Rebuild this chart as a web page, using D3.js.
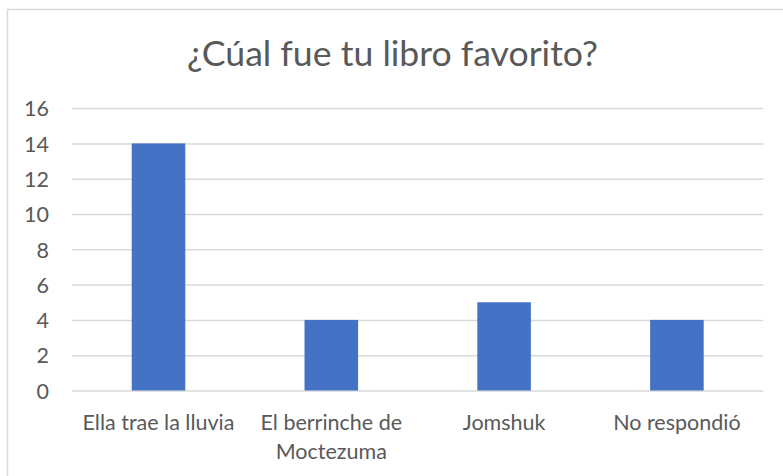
<!DOCTYPE html>
<html>
<head>
<meta charset="utf-8">
<script src="https://cdn.jsdelivr.net/npm/d3@7"></script>
<style>
  html, body { margin: 0; padding: 0; background: #fff; }
  svg { display: block; font-family: Lato, "Open Sans", sans-serif; }
</style>
</head>
<body>
<svg id="chart" width="783" height="476"></svg>
<script>
const titleText = "¿Cúal fue tu libro favorito?";
const categories = ["Ella trae la lluvia", "El berrinche de Moctezuma", "Jomshuk", "No respondió"];
const values = [14, 4, 5, 4];
const yTicks = [0, 2, 4, 6, 8, 10, 12, 14, 16];

const W = 783, H = 476;
const plot = { left: 72.1, right: 763.3, top: 108.1, bottom: 390.5 };
const textColor = "#595959";
const gridColor = "#d9d9d9";
const barColor = "#4472C4";

const svg = d3.select("#chart");

// chart border
svg.append("rect")
  .attr("x", 7.5).attr("y", 9.5)
  .attr("width", W + 10).attr("height", H + 10)
  .attr("fill", "#fff")
  .attr("stroke", gridColor).attr("stroke-width", 1.5);

// title
const title = svg.append("text")
  .attr("x", 392.5).attr("y", 66)
  .attr("text-anchor", "middle")
  .attr("fill", textColor)
  .style("font-size", "36px")
  .text(titleText);
// fit width to reference (~411px)
{
  const w = title.node().getComputedTextLength();
  title.style("font-size", (36 * 411 / w).toFixed(2) + "px");
}

const x = d3.scaleBand()
  .domain(categories)
  .range([plot.left, plot.right])
  .paddingInner(0.69)
  .paddingOuter(0.345);

const y = d3.scaleLinear()
  .domain([0, 16])
  .range([plot.bottom, plot.top]);

// gridlines
svg.append("g")
  .attr("transform", `translate(${plot.left},0)`)
  .call(d3.axisLeft(y).tickValues(yTicks).tickSize(-(plot.right - plot.left)).tickFormat(""))
  .call(g => g.select(".domain").remove())
  .call(g => g.selectAll(".tick line").attr("stroke", gridColor).attr("stroke-width", 1.5));

// y tick labels
const labelSize = 21.5;
const yAxis = svg.append("g")
  .attr("transform", `translate(49,0)`)
  .call(d3.axisLeft(y).tickValues(yTicks).tickSize(0).tickPadding(0))
  .call(g => g.select(".domain").remove());
yAxis.selectAll("text")
  .attr("fill", textColor)
  .style("font-size", labelSize + "px")
  .style("font-family", "Lato, 'Open Sans', sans-serif")
  .attr("dy", "0.36em");

// bars
svg.append("g").selectAll("rect")
  .data(values)
  .join("rect")
  .attr("x", (d, i) => x(categories[i]))
  .attr("width", x.bandwidth())
  .attr("y", d => y(d))
  .attr("height", d => y(0) - y(d))
  .attr("fill", barColor);

// category labels with wrapping
const step = x.step();
const xAxis = svg.append("g")
  .attr("transform", `translate(0,${plot.bottom})`)
  .call(d3.axisBottom(x).tickSize(0).tickPadding(0))
  .call(g => g.select(".domain").remove());

xAxis.selectAll(".tick text")
  .attr("fill", textColor)
  .style("font-size", labelSize + "px")
  .style("font-family", "Lato, 'Open Sans', sans-serif")
  .attr("y", 0).attr("dy", 0)
  .each(function(d) {
    const t = d3.select(this);
    const words = d.split(" ");
    t.text(null);
    let line = [];
    let lineNo = 0;
    let tspan = t.append("tspan").attr("x", 0).attr("y", 39.5);
    for (const w of words) {
      line.push(w);
      tspan.text(line.join(" "));
      if (tspan.node().getComputedTextLength() > step - 8 && line.length > 1) {
        line.pop();
        tspan.text(line.join(" "));
        line = [w];
        lineNo++;
        tspan = t.append("tspan").attr("x", 0).attr("y", 39.5 + lineNo * 29).text(w);
      }
    }
  });
</script>
</body>
</html>
